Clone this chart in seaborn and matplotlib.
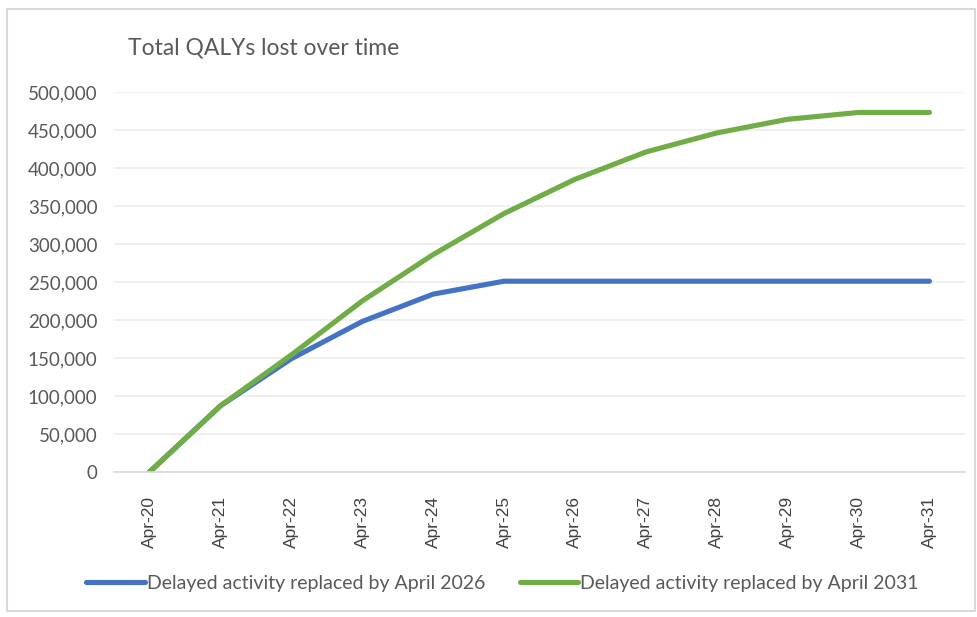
import pandas as pd
import matplotlib.pyplot as plt
import seaborn as sns
from matplotlib.patches import Rectangle
from matplotlib.ticker import FuncFormatter, FixedLocator

months = ["Apr-20", "Apr-21", "Apr-22", "Apr-23", "Apr-24", "Apr-25",
          "Apr-26", "Apr-27", "Apr-28", "Apr-29", "Apr-30", "Apr-31"]
by_2026 = [0, 87000, 149000, 198000, 234000, 251000,
           251000, 251000, 251000, 251000, 251000, 251000]
by_2031 = [0, 87000, 154000, 225000, 286000, 340000,
           385000, 421000, 446000, 464000, 473000, 473000]
series = ["Delayed activity replaced by April 2026",
          "Delayed activity replaced by April 2031"]

df = pd.DataFrame({
    "month": months * 2,
    "qaly": by_2026 + by_2031,
    "series": [series[0]] * len(months) + [series[1]] * len(months),
})

sns.set_style("white")
plt.rcParams["font.family"] = ["Lato", "DejaVu Sans"]

fig = plt.figure(figsize=(9.78, 6.17), dpi=100)
ax = fig.add_axes([0.1166, 0.235, 0.870, 0.616])

sns.lineplot(data=df, x="month", y="qaly", hue="series",
             palette=["#4472C4", "#70AD47"], linewidth=3.7, ax=ax,
             sort=False, legend=True)
for ln in ax.get_lines():
    ln.set_solid_capstyle("round")

ax.set_xlim(-0.5, len(months) - 0.5)
ax.set_ylim(0, 500000)
ax.set_yticks(range(0, 500001, 50000))
ax.yaxis.set_major_formatter(FuncFormatter(lambda v, p: f"{int(v):,}"))
ax.grid(axis="y", color="#ececec", linewidth=1.2)
ax.set_axisbelow(True)
ax.set_xlabel("")
ax.set_ylabel("")

for s in ["left", "right", "top"]:
    ax.spines[s].set_visible(False)
ax.spines["bottom"].set_color("#d9d9d9")
ax.spines["bottom"].set_linewidth(1.2)

ax.set_xticks(range(len(months)))
ax.set_xticklabels(months, rotation=90, fontsize=12.5, color="#404040",
                   family=["Liberation Sans", "DejaVu Sans"])
ax.xaxis.set_minor_locator(FixedLocator([i - 0.5 for i in range(len(months) + 1)]))
ax.tick_params(axis="x", which="major", length=0, pad=17)
ax.tick_params(axis="x", which="minor", length=8, color="#d9d9d9", width=1.2)
ax.tick_params(axis="y", length=0, labelsize=13.5, labelcolor="#595959", pad=12)

handles, labels = ax.get_legend_handles_labels()
ax.get_legend().remove()
fig.legend(handles, labels, loc="center", bbox_to_anchor=(0.514, 0.055), ncol=2,
           frameon=False, fontsize=14, handlelength=3.0, handletextpad=0.1,
           columnspacing=1.8, labelcolor="#595959")

fig.text(0.131, 0.922, "Total QALYs lost over time", fontsize=16.5,
         color="#595959", va="center", ha="left")

fig.patches.append(Rectangle((0.007, 0.01), 0.99, 0.975, transform=fig.transFigure,
                             fill=False, edgecolor="#d9d9d9", linewidth=1.5))

fig.savefig("out.png", dpi=100)
